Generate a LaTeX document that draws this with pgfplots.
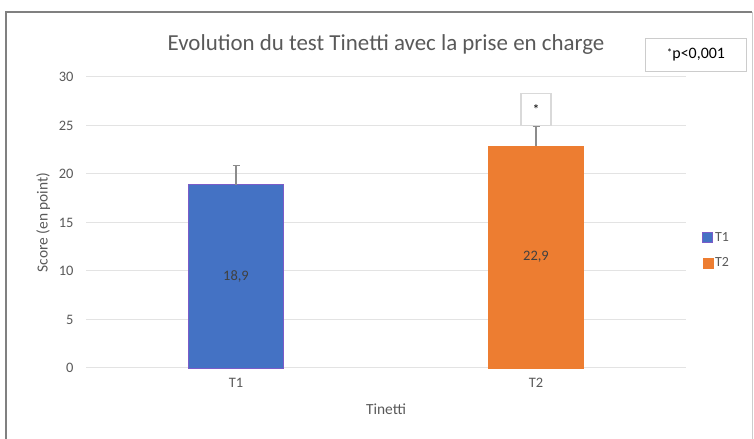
\documentclass[border=0pt]{standalone}
\usepackage{pgfplots}
\pgfplotsset{compat=1.18}
\usepackage{fontspec}
\setmainfont{Carlito}
\definecolor{xlblue}{HTML}{4472C4}
\definecolor{xlorange}{HTML}{ED7D31}
\definecolor{xlgrid}{HTML}{E3E3E3}
\definecolor{xltext}{HTML}{595959}
\definecolor{xlpurple}{HTML}{7B5CC8}
\begin{document}
\begin{tikzpicture}[x=1bp,y=1bp]
\useasboundingbox (0,0) rectangle (754,439);
% outer chart frame
\draw[line width=2.5bp,color=black!50] (6,0) -- (6,427) -- (752,427);
\draw[line width=0.8bp,color=black!20] (752,427) -- (752,0);
% title
\node[font=\fontsize{23}{27}\selectfont, text=xltext] at (386,394) {Evolution du test Tinetti avec la prise en charge};
% p-value box
\node[draw=black!20, line width=1bp, fill=white, minimum width=101bp, minimum height=33bp, inner sep=0pt, font=\fontsize{16}{19}\selectfont, text=black] at (696,384) {\raisebox{0.3ex}{\fontsize{11}{12}\selectfont *}p<0,001};
\begin{axis}[
  at={(86bp,71bp)}, anchor=south west,
  scale only axis, width=600bp, height=291bp,
  xmin=-0.5, xmax=1.5, ymin=0, ymax=30,
  ytick={0,5,...,30},
  xtick={0,1}, xticklabels={T1,T2},
  axis line style={draw=none},
  major tick length=0pt,
  ymajorgrids, grid style={xlgrid, line width=1bp},
  /pgf/number format/assume math mode=true,
  yticklabel style={font=\fontsize{14.5}{17}\selectfont, text=xltext, xshift=-9bp},
  xticklabel style={font=\fontsize{14.5}{17}\selectfont, text=xltext, yshift=-7bp},
  xlabel={Tinetti}, ylabel={Score (en point)},
  xlabel style={font=\fontsize{15.5}{18}\selectfont, text=xltext, yshift=-9bp},
  ylabel style={font=\fontsize{15.5}{18}\selectfont, text=xltext, yshift=2bp},
  bar width=0.317,
  legend style={at={(1.027,0.405)}, anchor=west, draw=none, fill=none,
    font=\fontsize{14}{16}\selectfont, text=xltext, row sep=11bp,
    inner sep=0pt},
  legend cell align=left,
  legend image code/.code={\draw[#1] (0bp,-5bp) rectangle (10bp,5bp);},
  clip=false,
]
\addplot[ybar, fill=xlblue, draw=xlpurple, line width=0.8bp,
  error bars/.cd, y dir=plus, y explicit,
  error bar style={black!45, line width=1.2bp},
  error mark options={rotate=90, mark size=3.5bp, black!45, line width=1.2bp}]
  coordinates {(0,18.9) +- (0,2)};
\addlegendentry{T1}
\addplot[ybar, fill=xlorange, draw=xlorange, line width=0.5bp,
  error bars/.cd, y dir=plus, y explicit,
  error bar style={black!45, line width=1.2bp},
  error mark options={rotate=90, mark size=3.5bp, black!45, line width=1.2bp}]
  coordinates {(1,22.9) +- (0,2)};
\addlegendentry{T2}
% value labels centered in bars
\addplot[draw=none, mark=none, nodes near coords, point meta=explicit symbolic,
  every node near coord/.append style={anchor=center, font=\fontsize{14.5}{17}\selectfont, text=black!75}, forget plot]
  coordinates {(0,9.45)[18,9] (1,11.45)[22,9]};
% significance box
\node[draw=black!15, line width=1.2bp, fill=white, minimum width=30bp, minimum height=32bp, inner sep=0pt, font=\fontsize{14}{16}\selectfont] at (axis cs:1,26.65) {*};
\end{axis}
\end{tikzpicture}
\end{document}
